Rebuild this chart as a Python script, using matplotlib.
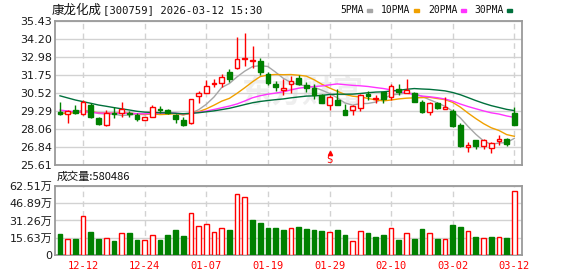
import numpy as np
import matplotlib
matplotlib.use('Agg')
import matplotlib.pyplot as plt

# ---------------- data ----------------
title_name = '康龙化成'
title_rest = '[300759] 2026-03-12 15:30'
tick_idx = [3, 11, 19, 27, 35, 43, 51, 59]
tick_labels = ['12-12', '12-24', '01-07', '01-19', '01-29', '02-10', '03-02', '03-12']
price_ticks = [25.61, 26.84, 28.06, 29.29, 30.52, 31.75, 32.98, 34.20, 35.43]
vol_ticks = [0, 15.63, 31.26, 46.89, 62.51]
vol_tick_labels = ['0', '15.63万', '31.26万', '46.89万', '62.51万']
last_volume = 580486

# closes of the 29 sessions before the window (needed for the moving averages)
prior_closes = [33.6, 33.4, 33.3, 32.2, 31.9, 31.7, 31.8, 31.9, 31.5, 31.4,
                30.6, 30.2, 29.8, 29.6, 29.5, 29.3, 29.2, 29.4, 29.1, 29.3,
                29.0, 28.8, 29.1, 29.0, 29.1, 29.3, 29.2, 29.2, 29.3]

opens = [29.24, 29.07, 29.36, 29.09, 29.72, 28.81, 28.34, 29.19, 29.17, 29.17,
         29.02, 28.68, 28.91, 29.43, 29.36, 29.05, 28.68, 28.47, 30.31, 30.54,
         31.14, 31.20, 31.95, 32.24, 32.82, 32.70, 32.72, 31.79, 31.14, 30.72,
         31.14, 31.52, 31.09, 30.86, 30.38, 29.70, 30.01, 29.38, 29.36, 29.47,
         30.42, 30.09, 30.56, 30.27, 30.77, 30.54, 30.50, 29.92, 29.24, 29.82,
         29.46, 29.31, 28.34, 26.86, 27.29, 26.90, 26.78, 27.24, 27.40, 29.13]
highs = [29.92, 29.36, 29.70, 30.04, 29.84, 28.90, 29.36, 29.56, 29.90, 29.31,
         29.15, 28.88, 29.70, 29.63, 29.40, 29.07, 28.91, 30.13, 30.65, 31.44,
         31.45, 31.82, 32.16, 34.32, 34.63, 33.72, 32.88, 31.97, 31.37, 31.45,
         31.71, 31.75, 31.24, 31.10, 30.45, 30.35, 30.82, 29.77, 29.68, 30.47,
         30.67, 30.38, 30.61, 31.13, 31.13, 31.47, 30.61, 30.04, 29.92, 29.92,
         30.22, 29.41, 28.45, 27.20, 27.34, 27.40, 27.19, 27.67, 27.45, 29.58]
lows = [29.02, 28.47, 29.09, 29.02, 28.81, 28.37, 28.30, 28.81, 28.90, 28.90,
        28.63, 28.66, 28.89, 29.13, 29.10, 28.45, 28.30, 28.43, 29.82, 30.50,
        30.96, 30.95, 31.27, 32.16, 32.36, 32.20, 31.75, 31.06, 30.65, 30.38,
        30.50, 31.07, 30.61, 30.11, 29.84, 29.36, 29.67, 29.02, 29.04, 29.29,
        30.07, 29.86, 29.86, 30.04, 30.38, 30.50, 29.90, 29.17, 29.02, 29.43,
        29.41, 28.18, 26.86, 26.52, 26.73, 26.67, 26.44, 26.99, 26.90, 28.34]
closes = [29.11, 29.31, 29.13, 29.90, 28.90, 28.38, 29.13, 29.10, 29.41, 29.07,
          28.72, 28.86, 29.56, 29.36, 29.13, 28.74, 28.37, 30.11, 30.54, 30.99,
          31.23, 31.61, 31.47, 32.82, 32.93, 32.77, 31.93, 31.18, 30.90, 30.83,
          31.35, 31.14, 30.83, 30.39, 29.86, 30.22, 29.70, 29.04, 29.65, 30.35,
          30.31, 30.16, 30.14, 30.99, 30.61, 30.72, 29.92, 29.20, 29.86, 29.52,
          29.56, 28.27, 26.88, 26.95, 26.88, 27.29, 27.08, 27.36, 27.06, 28.34]
# volume in 万 (10k lots)
volumes = [19.2, 14.3, 14.6, 35.4, 21.0, 14.6, 15.2, 12.8, 19.8, 20.1,
           13.7, 13.4, 18.0, 13.7, 18.3, 22.9, 17.4, 38.1, 26.2, 28.1,
           20.7, 24.7, 22.9, 55.5, 52.8, 32.0, 29.3, 24.7, 24.7, 22.9,
           24.7, 25.6, 23.8, 22.9, 22.0, 20.7, 22.9, 18.3, 12.5, 21.7,
           20.1, 16.5, 18.3, 24.4, 13.7, 19.8, 14.6, 23.8, 19.8, 14.6,
           14.3, 27.5, 25.6, 21.7, 16.5, 15.2, 16.5, 16.5, 15.5, last_volume / 1e4]

ma_periods = [5, 10, 20, 30]
ma_colors = ['#a6a6a6', '#f0a000', '#ff33ff', '#00703c']
ma_names = ['5PMA', '10PMA', '20PMA', '30PMA']

# ---------------- figure ----------------
UP = '#ff0000'
DOWN = '#008000'
GRID = '#d2d2d2'
SPINE = '#9a9a9a'
W, H = 578, 276
fig = plt.figure(figsize=(W / 100, H / 100), dpi=100)

def fx(px):
    return px / W

def fy(py):
    return 1 - py / H

left, right = 55, 522
axp = fig.add_axes([fx(left), fy(165), fx(right - left), (165 - 21) / H])
axv = fig.add_axes([fx(left), fy(255), fx(right - left), (255 - 186) / H])

n = len(closes)
x = np.arange(n)
o = np.array(opens); c = np.array(closes); h = np.array(highs); l = np.array(lows)

# watermark
axp.text(0.53, 0.5, '东方财富', transform=axp.transAxes, ha='center', va='center',
         fontsize=22, color='#eeeeee', family=['Noto Sans CJK SC'], fontweight='bold',
         style='italic', zorder=0)

# moving averages
full = np.array(prior_closes + closes)
for p, col in zip(ma_periods, ma_colors):
    ma = np.convolve(full, np.ones(p) / p, mode='valid')[-n:]
    axp.plot(x, ma, color=col, lw=1.0, zorder=2)

# candles
up = c > o
candle_col = np.where(up, UP, DOWN)
axp.vlines(x, l, h, colors=candle_col, lw=1.0, zorder=3)
body_h = np.maximum(np.abs(c - o), 0.02)
axp.bar(x, body_h, bottom=np.minimum(o, c), width=0.62,
        color=np.where(up, 'white', DOWN), edgecolor=candle_col, linewidth=1.0, zorder=4)

# "S" event marker
axp.text(35, 25.98, 'S', color=UP, ha='center', va='center', fontsize=7.5,
         family='DejaVu Sans Mono', zorder=5)
axp.plot([35], [26.45], marker='^', color=UP, markersize=3, zorder=5)

axp.set_xlim(-0.65, 60.0)
axp.set_ylim(price_ticks[0], price_ticks[-1])
axp.set_yticks(price_ticks)
axp.set_yticklabels([f'{t:.2f}' for t in price_ticks])
axp.set_xticks(tick_idx)
axp.set_xticklabels([])

# volume
prev = np.concatenate([[prior_closes[-1]], c[:-1]])
vup = c >= prev
vcol = np.where(vup, UP, DOWN)
axv.bar(x, volumes, width=0.62, color=np.where(vup, 'white', DOWN), edgecolor=vcol,
        linewidth=1.0, zorder=3)
axv.set_xlim(-0.65, 60.0)
axv.set_ylim(vol_ticks[0], vol_ticks[-1])
axv.set_yticks(vol_ticks)
axv.set_yticklabels(vol_tick_labels)
axv.set_xticks(tick_idx)
axv.set_xticklabels(tick_labels)

for ax in (axp, axv):
    ax.set_axisbelow(True)
    ax.yaxis.grid(True, color=GRID, lw=1.0, ls='-')
    ax.xaxis.grid(True, color=GRID, lw=1.0, ls=(0, (4, 3)))
    for s in ax.spines.values():
        s.set_color(SPINE)
        s.set_linewidth(1.3)
    ax.tick_params(axis='both', length=0, pad=2)
    for t in ax.get_yticklabels():
        t.set_fontsize(8)
        t.set_color('#1a1a1a')
        t.set_family(['DejaVu Sans', 'Noto Sans CJK SC'])

for t in axv.get_xticklabels():
    t.set_fontsize(7.5)
    t.set_color(UP)
    t.set_family('DejaVu Sans Mono')
axv.tick_params(axis='x', pad=4)

# title
fig.text(fx(52), fy(10), title_name, ha='left', va='center', fontsize=9,
         family=['Noto Sans CJK SC'], color='#111111')
fig.text(fx(103), fy(10), title_rest, ha='left', va='center', fontsize=7.6,
         family='DejaVu Sans Mono', color='#111111')

# legend
leg_x = [340, 381, 428, 474]
for name, col, lx in zip(ma_names, ma_colors, leg_x):
    tt = fig.text(fx(lx), fy(10), name, ha='left', va='center', fontsize=7,
                  family='DejaVu Sans Mono', color='#111111')
    w = {4: 24, 5: 30}[len(name)]
    fig.patches.append(plt.Rectangle((fx(lx + w + 3), fy(12)), fx(5), 3 / H,
                                     transform=fig.transFigure, color=col))

# volume caption
fig.text(fx(57), fy(177), f'成交量:{last_volume}', ha='left', va='center', fontsize=8,
         family=['Noto Sans CJK SC'], color='#111111')

fig.savefig('out.png', dpi=100)
